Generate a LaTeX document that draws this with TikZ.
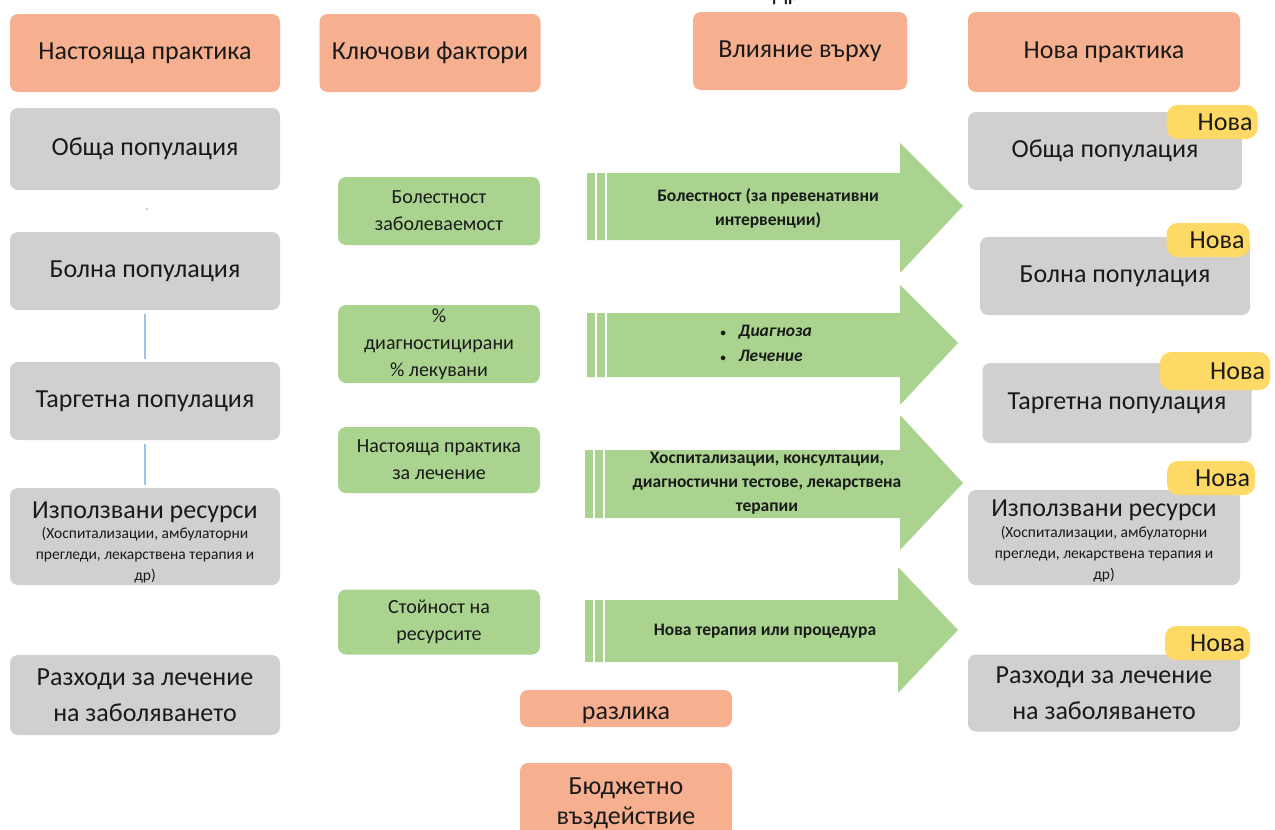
\documentclass[tikz,border=0pt]{standalone}
\usepackage{fontspec}
\setmainfont{Carlito}
\definecolor{hdrc}{HTML}{F7B08F}
\definecolor{greyc}{HTML}{D2D0CF}
\definecolor{greenc}{HTML}{A9D38E}
\definecolor{yellowc}{HTML}{FFD966}
\definecolor{linkc}{HTML}{9DC3E6}
\definecolor{txtc}{HTML}{1A1A1A}
\tikzset{
  box/.style={rounded corners=8pt, inner sep=0pt, align=center, text=txtc},
  hdrbox/.style={box, fill=hdrc, font=\fontsize{26}{30}\selectfont},
  greybox/.style={box, fill=greyc, font=\fontsize{26}{36}\selectfont},
  factorbox/.style={box, fill=greenc, font=\fontsize{20}{27}\selectfont},
  tagbox/.style={box, fill=yellowc, rounded corners=11pt, align=right, inner xsep=5pt, font=\fontsize{26}{26}\selectfont},
  arrowtext/.style={align=center, text=txtc, font=\bfseries\fontsize{17.5}{24}\selectfont},
  arrowbody/.style={fill=greenc},
  stripe/.style={draw=white, line width=1.8pt},
  conn/.style={draw=linkc, line width=1.3pt, shorten >=3pt, shorten <=4pt},
  small/.style={font=\fontsize{15.5}{21}\selectfont}
}
\begin{document}
\begin{tikzpicture}[x=1pt,y=-1pt]
\useasboundingbox (0,0) rectangle (1275,830);

% cut text at top
\node[anchor=base, text=txtc, font=\fontsize{26}{26}\selectfont] (cut) at (787,0) {др};

% headers
\node[hdrbox, minimum width=270pt, minimum height=78pt] (h1) at (145,53) {Настояща практика};
\node[hdrbox, minimum width=221pt, minimum height=78pt] (h2) at (430,53) {Ключови фактори};
\node[hdrbox, minimum width=214pt, minimum height=78pt] (h3) at (800,51) {Влияние върху};
\node[hdrbox, minimum width=272pt, minimum height=80pt] (h4) at (1104,52) {Нова практика};

% left column
\node[greybox, minimum width=270pt, minimum height=82pt] (l1) at (145,149) {Обща популация};
\node[greybox, minimum width=270pt, minimum height=78pt] (l2) at (145,271) {Болна популация};
\node[greybox, minimum width=270pt, minimum height=78pt] (l3) at (145,401) {Таргетна популация};
\node[greybox, minimum width=270pt, minimum height=97pt] (l4) at (145,536.5) {};
\node[text=txtc, font=\fontsize{26}{26}\selectfont, anchor=base] (l4t) at (145,518) {Използвани ресурси};
\node[text=txtc, small, align=center, anchor=north] (l4s) at (145,524) {(Хоспитализации, амбулаторни\\прегледи, лекарствена терапия и\\др)};
\node[greybox, minimum width=270pt, minimum height=80pt] (l5) at (145,695) {Разходи за лечение\\на заболяването};

\fill[linkc] (147,209) circle (1.2pt);
\draw[conn] (l2) -- (l3);
\draw[conn] (l3) -- (l4);

% factors
\node[factorbox, minimum width=202pt, minimum height=68pt] (f1) at (439,211) {Болестност\\заболеваемост};
\node[factorbox, minimum width=202pt, minimum height=78pt] (f2) at (439,344) {\%\\диагностицирани\\\% лекувани};
\node[factorbox, minimum width=202pt, minimum height=66pt] (f3) at (439,460) {Настояща практика\\за лечение};
\node[factorbox, minimum width=202pt, minimum height=65pt] (f4) at (439,622) {Стойност на\\ресурсите};

% arrows
\fill[arrowbody] (587,173) -- (900,173) -- (900,143) -- (963,206) -- (900,273) -- (900,240) -- (587,240) -- cycle;
\draw[stripe] (596,173) -- (596,240);
\draw[stripe] (606,173) -- (606,240);
\node[arrowtext] (a1) at (768,208) {Болестност (за превенативни\\интервенции)};

\fill[arrowbody] (587,313) -- (900,313) -- (900,285) -- (958,343) -- (900,405) -- (900,377) -- (587,377) -- cycle;
\draw[stripe] (596,313) -- (596,377);
\draw[stripe] (606,313) -- (606,377);
\node[arrowtext, align=left, font=\bfseries\itshape\fontsize{17.5}{25}\selectfont] (a2) at (766,343) {{\fontsize{11}{11}\selectfont\textbullet}\hspace{13pt}Диагноза\\{\fontsize{11}{11}\selectfont\textbullet}\hspace{13pt}Лечение};

\fill[arrowbody] (585,450) -- (900,450) -- (900,415) -- (963,483) -- (900,550) -- (900,518) -- (585,518) -- cycle;
\draw[stripe] (594,450) -- (594,518);
\draw[stripe] (604,450) -- (604,518);
\node[arrowtext] (a3) at (767,483) {Хоспитализации, консултации,\\диагностични тестове, лекарствена\\терапии};

\fill[arrowbody] (585,600) -- (898,600) -- (898,567) -- (958,630) -- (898,693) -- (898,662) -- (585,662) -- cycle;
\draw[stripe] (594,600) -- (594,662);
\draw[stripe] (604,600) -- (604,662);
\node[arrowtext] (a4) at (765,631) {Нова терапия или процедура};

% right column
\node[greybox, minimum width=274pt, minimum height=78pt] (r1) at (1105,151) {Обща популация};
\node[greybox, minimum width=270pt, minimum height=78pt] (r2) at (1115,276) {Болна популация};
\node[greybox, minimum width=269pt, minimum height=80pt] (r3) at (1117,403) {Таргетна популация};
\node[greybox, minimum width=272pt, minimum height=95pt] (r4) at (1104,537.5) {};
\node[text=txtc, font=\fontsize{26}{26}\selectfont, anchor=base] (r4t) at (1104,516) {Използвани ресурси};
\node[text=txtc, small, align=center, anchor=north] (r4s) at (1104,523) {(Хоспитализации, амбулаторни\\прегледи, лекарствена терапия и\\др)};
\node[greybox, minimum width=272pt, minimum height=77pt] (r5) at (1104,693) {Разходи за лечение\\на заболяването};

\node[tagbox, text width=81pt, minimum height=34pt] (t1) at (1212,122) {Нова};
\node[tagbox, text width=73pt, minimum height=34pt] (t2) at (1208,240) {Нова};
\node[tagbox, text width=100pt, minimum height=38pt] (t3) at (1215,371) {Нова};
\node[tagbox, text width=78pt, minimum height=34pt] (t4) at (1211,478) {Нова};
\node[tagbox, text width=75pt, minimum height=34pt] (t5) at (1207.5,643) {Нова};

% bottom
\node[hdrbox, minimum width=212pt, minimum height=37pt, text height=22pt, text depth=0pt] (diff) at (626,708.5) {разлика};
\node[hdrbox, minimum width=212pt, minimum height=80pt] (budget) at (626,803) {Бюджетно\\въздействие};
\end{tikzpicture}
\end{document}
